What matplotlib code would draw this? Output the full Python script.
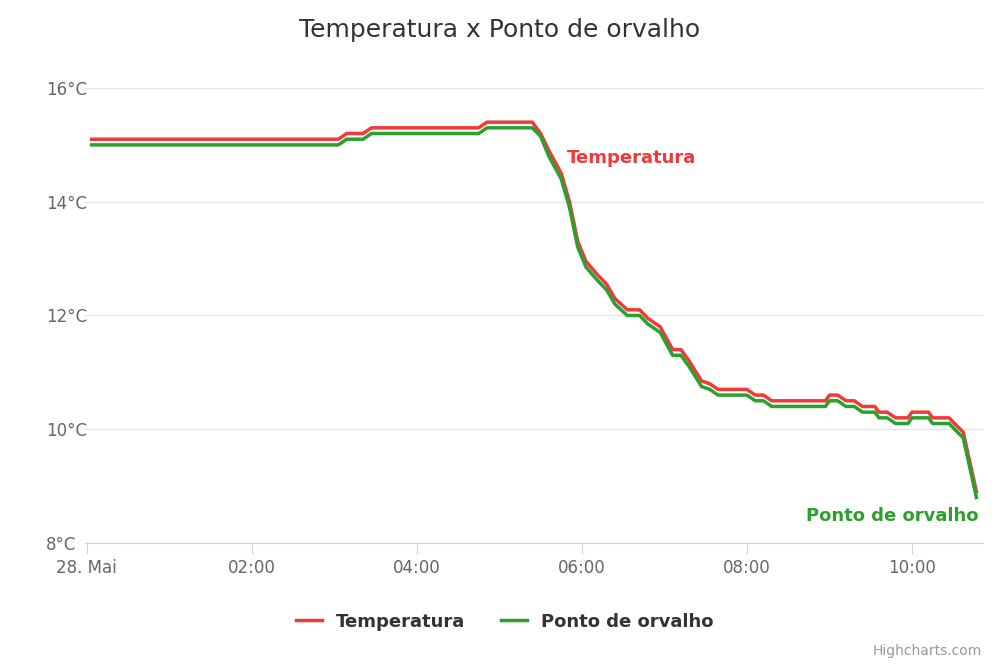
import matplotlib
matplotlib.use("Agg")
import matplotlib.pyplot as plt

hours = [0.06, 3.05, 3.15, 3.35, 3.45, 4.75, 4.85, 5.4, 5.5, 5.6, 5.75, 5.85, 5.95, 6.05,
         6.2, 6.3, 6.4, 6.55, 6.7, 6.8, 6.95, 7.1, 7.2, 7.3, 7.45, 7.55, 7.65, 8.0,
         8.1, 8.2, 8.3, 8.95, 9.0, 9.1, 9.2, 9.3, 9.4, 9.55, 9.6, 9.7, 9.8, 9.95,
         10.0, 10.2, 10.25, 10.45, 10.55, 10.62, 10.78]
temp = [15.1, 15.1, 15.2, 15.2, 15.3, 15.3, 15.4, 15.4, 15.2, 14.9, 14.5, 14.0, 13.3, 12.95,
        12.7, 12.55, 12.3, 12.1, 12.1, 11.95, 11.8, 11.4, 11.4, 11.2, 10.85, 10.8, 10.7, 10.7,
        10.6, 10.6, 10.5, 10.5, 10.6, 10.6, 10.5, 10.5, 10.4, 10.4, 10.3, 10.3, 10.2, 10.2,
        10.3, 10.3, 10.2, 10.2, 10.05, 9.95, 8.9]
dew = [15.0, 15.0, 15.1, 15.1, 15.2, 15.2, 15.3, 15.3, 15.15, 14.8, 14.4, 13.9, 13.2, 12.85,
       12.6, 12.45, 12.2, 12.0, 12.0, 11.85, 11.7, 11.3, 11.3, 11.1, 10.75, 10.7, 10.6, 10.6,
       10.5, 10.5, 10.4, 10.4, 10.5, 10.5, 10.4, 10.4, 10.3, 10.3, 10.2, 10.2, 10.1, 10.1,
       10.2, 10.2, 10.1, 10.1, 9.95, 9.85, 8.8]
tick_hours = [0, 2, 4, 6, 8, 10]
tick_labels = ["28. Mai", "02:00", "04:00", "06:00", "08:00", "10:00"]
y_ticks = [8, 10, 12, 14, 16]

RED = "#f03a3a"
GREEN = "#2ca02c"

fig = plt.figure(figsize=(10, 6.67), dpi=100)
ax = fig.add_axes([0.085, 0.186, 0.898, 0.682])
ax.plot(hours, temp, color=RED, lw=2.5, label="Temperatura", solid_joinstyle="round")
ax.plot(hours, dew, color=GREEN, lw=2.5, label="Ponto de orvalho", solid_joinstyle="round")

ax.set_xlim(-0.02, 10.86)
ax.set_ylim(8, 16)
ax.set_xticks(tick_hours)
ax.set_xticklabels(tick_labels)
ax.set_yticks(y_ticks)
ax.set_yticklabels([f"{v}°C" for v in y_ticks])
ax.grid(axis="y", color="#e6e6e6", lw=1)
ax.set_axisbelow(True)
for s in ["top", "right", "left"]:
    ax.spines[s].set_visible(False)
ax.spines["bottom"].set_color("#ccd6eb")
ax.tick_params(axis="y", length=0, labelsize=12, labelcolor="#666666", pad=28)
ax.tick_params(axis="x", length=8, color="#ccd6eb", labelsize=12, labelcolor="#666666")
for lab in ax.get_yticklabels():
    lab.set_horizontalalignment("left")

ax.text(5.82, 14.68, "Temperatura", color=RED, fontsize=13, fontweight="bold")
ax.text(10.8, 8.38, "Ponto de orvalho", color=GREEN, fontsize=13, fontweight="bold", ha="right")

fig.text(0.5, 0.955, "Temperatura x Ponto de orvalho", ha="center", va="center",
         fontsize=18, color="#333333")
leg = fig.legend(loc="center", bbox_to_anchor=(0.505, 0.068), ncol=2, frameon=False,
                 handlelength=1.4, columnspacing=2.0,
                 prop={"weight": "bold", "size": 13})
for t in leg.get_texts():
    t.set_color("#333333")
fig.text(0.982, 0.018, "Highcharts.com", ha="right", fontsize=10, color="#999999")
fig.savefig("out.png")
